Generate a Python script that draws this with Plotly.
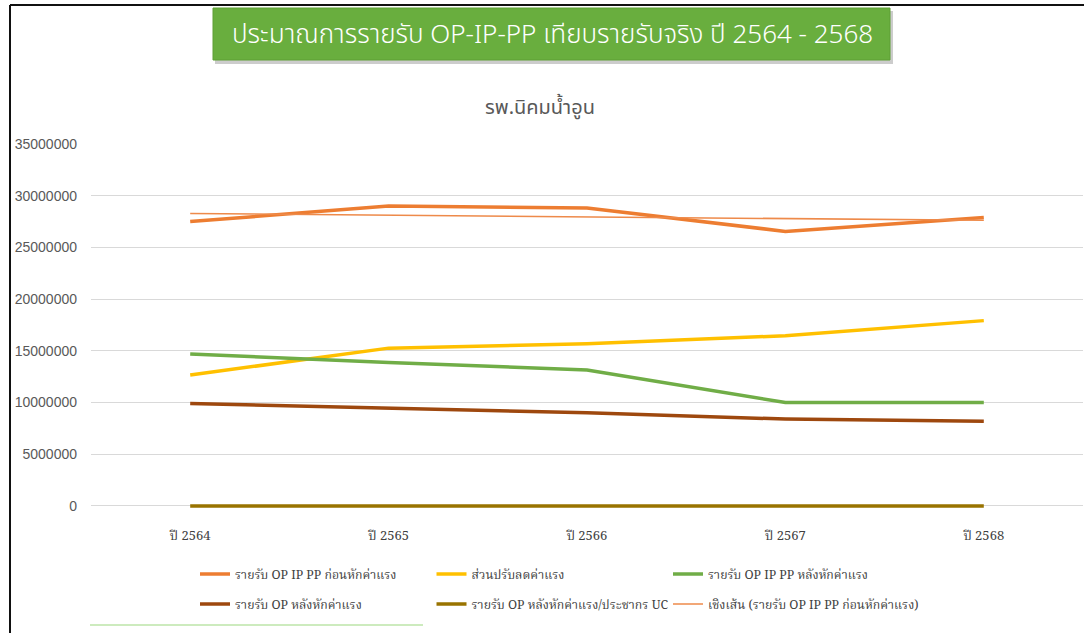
import plotly.graph_objects as go

# data
years = ["ปี 2564", "ปี 2565", "ปี 2566", "ปี 2567", "ปี 2568"]
income_before = [27500000, 29000000, 28800000, 26550000, 27900000]
labour_cut = [12660000, 15260000, 15680000, 16460000, 17920000]
income_after = [14700000, 13860000, 13150000, 10000000, 10000000]
op_after = [9900000, 9420000, 9000000, 8400000, 8200000]
op_per_uc = [420, 395, 380, 340, 330]
trend_years = ["ปี 2564", "ปี 2568"]
trend_before = [28280000, 27620000]

W, H = 1084, 633
L, R, T, B = 91, 1, 144, 125
PW, PH = W - L - R, H - T - B


def px_x(x):
    return (x - L) / PW


def px_y(y):
    return (H - B - y) / PH


# name, x, values, colour, width, legend column/row
series = [
    ("รายรับ OP IP PP ก่อนหักค่าแรง", years, income_before, "#ED7D31", 3.5, 0, 0),
    ("ส่วนปรับลดค่าแรง", years, labour_cut, "#FFC000", 3.5, 1, 0),
    ("รายรับ OP IP PP หลังหักค่าแรง", years, income_after, "#70AD47", 3.5, 2, 0),
    ("รายรับ OP หลังหักค่าแรง", years, op_after, "#9E480E", 3.5, 0, 1),
    ("รายรับ OP หลังหักค่าแรง/ประชากร UC", years, op_per_uc, "#997300", 3.5, 1, 1),
    ("เชิงเส้น (รายรับ OP IP PP ก่อนหักค่าแรง)", trend_years, trend_before, "#EE8A4A", 1.6, 2, 1),
]

leg_font = dict(family="Noto Serif Thai, Liberation Serif, serif", size=12.3, color="#404040")
col_x = [195, 431.5, 668]
row_y = [574, 604]

fig = go.Figure()
legends = {}
for i, (name, xs, vals, color, width, col, row) in enumerate(series):
    key = "legend" if i == 0 else f"legend{i + 1}"
    fig.add_trace(go.Scatter(
        x=xs, y=vals, name=name, mode="lines",
        line=dict(color=color, width=width),
        legend=key,
    ))
    legends[key] = dict(
        x=px_x(col_x[col]), y=px_y(row_y[row]),
        xanchor="left", yanchor="middle", orientation="h",
        font=leg_font, bgcolor="rgba(0,0,0,0)", itemwidth=30,
    )

shapes = [
    # outer frame lines
    dict(type="line", xref="paper", yref="paper",
         x0=px_x(10), x1=px_x(1084), y0=px_y(5), y1=px_y(5),
         line=dict(color="#111111", width=2)),
    dict(type="line", xref="paper", yref="paper",
         x0=px_x(10), x1=px_x(10), y0=px_y(5), y1=px_y(633),
         line=dict(color="#111111", width=2)),
    # banner shadow + banner
    dict(type="rect", xref="paper", yref="paper",
         x0=px_x(215), x1=px_x(893), y0=px_y(11), y1=px_y(64),
         fillcolor="rgba(0,0,0,0.2)", line=dict(width=0)),
    dict(type="rect", xref="paper", yref="paper",
         x0=px_x(213), x1=px_x(890), y0=px_y(8), y1=px_y(60),
         fillcolor="#69AE3E", line=dict(color="#5E9F35", width=1)),
    # faint green remnant at bottom
    dict(type="line", xref="paper", yref="paper",
         x0=px_x(90), x1=px_x(423), y0=px_y(625), y1=px_y(625),
         line=dict(color="#CDEBBE", width=2)),
]

annotations = [
    dict(text="ประมาณการรายรับ OP-IP-PP เทียบรายรับจริง ปี 2564 - 2568",
         xref="paper", yref="paper", x=px_x(552), y=px_y(35),
         xanchor="center", yanchor="middle", showarrow=False,
         font=dict(family="Noto Sans Thai, Noto Sans, sans-serif", size=26,
                   color="white", weight=300)),
    dict(text="รพ.นิคมน้ำอูน",
         xref="paper", yref="paper", x=px_x(540), y=px_y(108),
         xanchor="center", yanchor="middle", showarrow=False,
         font=dict(family="Noto Sans Thai, Noto Sans, sans-serif", size=20, color="#595959")),
]

fig.update_layout(
    width=W, height=H,
    margin=dict(l=L, r=R, t=T, b=B),
    paper_bgcolor="white", plot_bgcolor="white",
    showlegend=True,
    shapes=shapes,
    annotations=annotations,
    xaxis=dict(
        type="category", range=[-0.5, 4.5], showgrid=False, zeroline=False,
        showline=False, ticks="", ticklabelstandoff=18,
        tickfont=dict(family="Noto Serif Thai, Liberation Serif, serif", size=13, color="#404040"),
    ),
    yaxis=dict(
        range=[-200000, 35000000], tick0=0, dtick=5000000, tickformat="d",
        showgrid=True, gridcolor="#D9D9D9", gridwidth=1, zeroline=False,
        showline=False, ticks="", ticklabelstandoff=13,
        tickfont=dict(family="Liberation Sans, Arial, sans-serif", size=14, color="#595959"),
    ),
    **legends,
)

fig.write_html("out.html", config={"displayModeBar": False},
               post_script="document.body.style.margin='0';")
